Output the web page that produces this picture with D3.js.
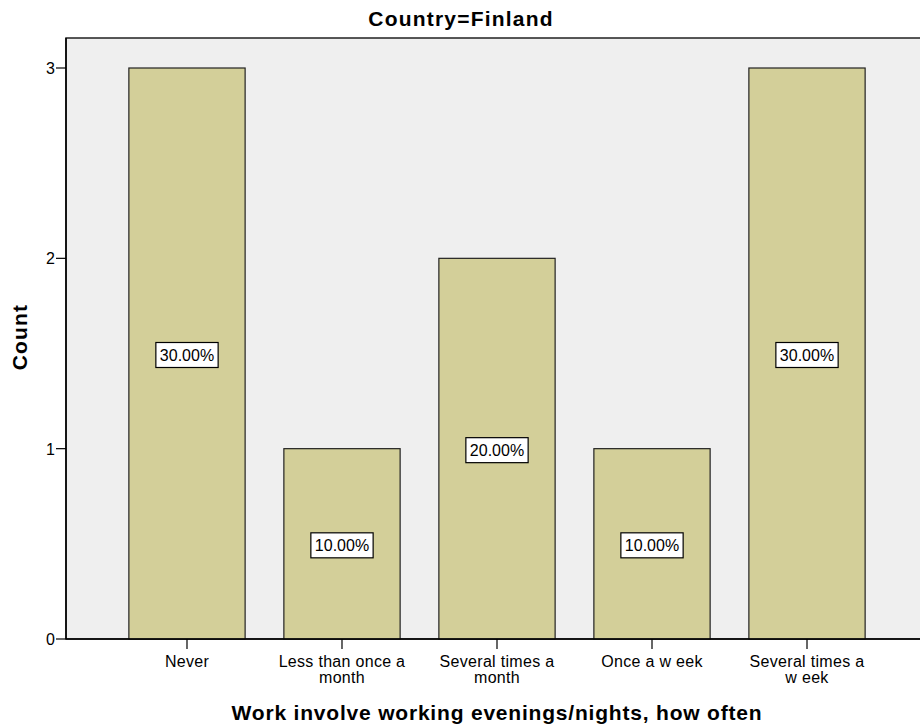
<!DOCTYPE html>
<html><head><meta charset="utf-8">
<script src="https://cdn.jsdelivr.net/npm/d3@7"></script>
<style>body{margin:0;background:#fff}svg{display:block}text{font-family:Arial,"Liberation Sans",sans-serif}</style>
</head><body>
<script>
const categories = [["Never"],["Less than once a","month"],["Several times a","month"],["Once a w eek"],["Several times a","w eek"]];
const counts = [3,1,2,1,3];
const percentLabels = ["30.00%","10.00%","20.00%","10.00%","30.00%"];
const yTicks = [0,1,2,3];

const W=920,H=728;
const svg=d3.select("body").append("svg").attr("width",W).attr("height",H);
const L=66,T=38,R=928,B=639;
const x=d3.scaleBand().domain(d3.range(counts.length)).range([L,R]).paddingInner(0.25).paddingOuter(0.4056);
const y=d3.scaleLinear().domain([0,3]).range([B,68]);

svg.append("rect").attr("x",L).attr("y",T).attr("width",R-L).attr("height",B-T).attr("fill","#efefef").attr("stroke","#222").attr("stroke-width",1.5);

svg.selectAll("rect.bar").data(counts).join("rect").attr("class","bar")
  .attr("x",(d,i)=>x(i)).attr("y",d=>y(d)).attr("width",x.bandwidth()).attr("height",d=>B-y(d))
  .attr("fill","#d3cf99").attr("stroke","#222").attr("stroke-width",1.2);

// percent labels
counts.forEach((d,i)=>{
  const cx=x(i)+x.bandwidth()/2, cy=y(d/2)+1.5;
  const g=svg.append("g");
  const t=g.append("text").attr("x",cx).attr("y",cy+6).attr("text-anchor","middle").attr("font-size",16).attr("fill","#000").text(percentLabels[i]);
  const bb=t.node().getBBox();
  g.insert("rect","text").attr("x",bb.x-4).attr("y",cy-12.5).attr("width",bb.width+8).attr("height",25).attr("fill","#fff").attr("stroke","#000").attr("stroke-width",1.2);
});

// axes lines
svg.append("line").attr("x1",L).attr("x2",R).attr("y1",B).attr("y2",B).attr("stroke","#000").attr("stroke-width",1.5);
svg.append("line").attr("x1",L).attr("x2",L).attr("y1",T).attr("y2",B).attr("stroke","#000").attr("stroke-width",1.5);

// y ticks
yTicks.forEach(v=>{
  svg.append("line").attr("x1",L-10).attr("x2",L).attr("y1",y(v)).attr("y2",y(v)).attr("stroke","#000").attr("stroke-width",1.2);
  svg.append("text").attr("x",L-11).attr("y",y(v)+6).attr("text-anchor","end").attr("font-size",16).text(v);
});

// x ticks
categories.forEach((lines,i)=>{
  const cx=x(i)+x.bandwidth()/2;
  svg.append("line").attr("x1",cx).attr("x2",cx).attr("y1",B).attr("y2",B+10).attr("stroke","#000").attr("stroke-width",1.2);
  const t=svg.append("text").attr("text-anchor","middle").attr("font-size",16).attr("letter-spacing",0.3);
  lines.forEach((s,j)=>t.append("tspan").attr("x",cx).attr("y",667+j*16).text(s));
});

svg.append("text").attr("x",461).attr("y",26).attr("text-anchor","middle").attr("font-size",21).attr("font-weight","bold").attr("letter-spacing",1.2).text("Country=Finland");
svg.append("text").attr("x",497).attr("y",720).attr("text-anchor","middle").attr("font-size",21).attr("font-weight","bold").attr("letter-spacing",0.8).text("Work involve working evenings/nights, how often");
svg.append("text").attr("transform","translate(27,337) rotate(-90)").attr("text-anchor","middle").attr("font-size",21).attr("font-weight","bold").attr("letter-spacing",1.2).text("Count");
</script>
</body></html>
